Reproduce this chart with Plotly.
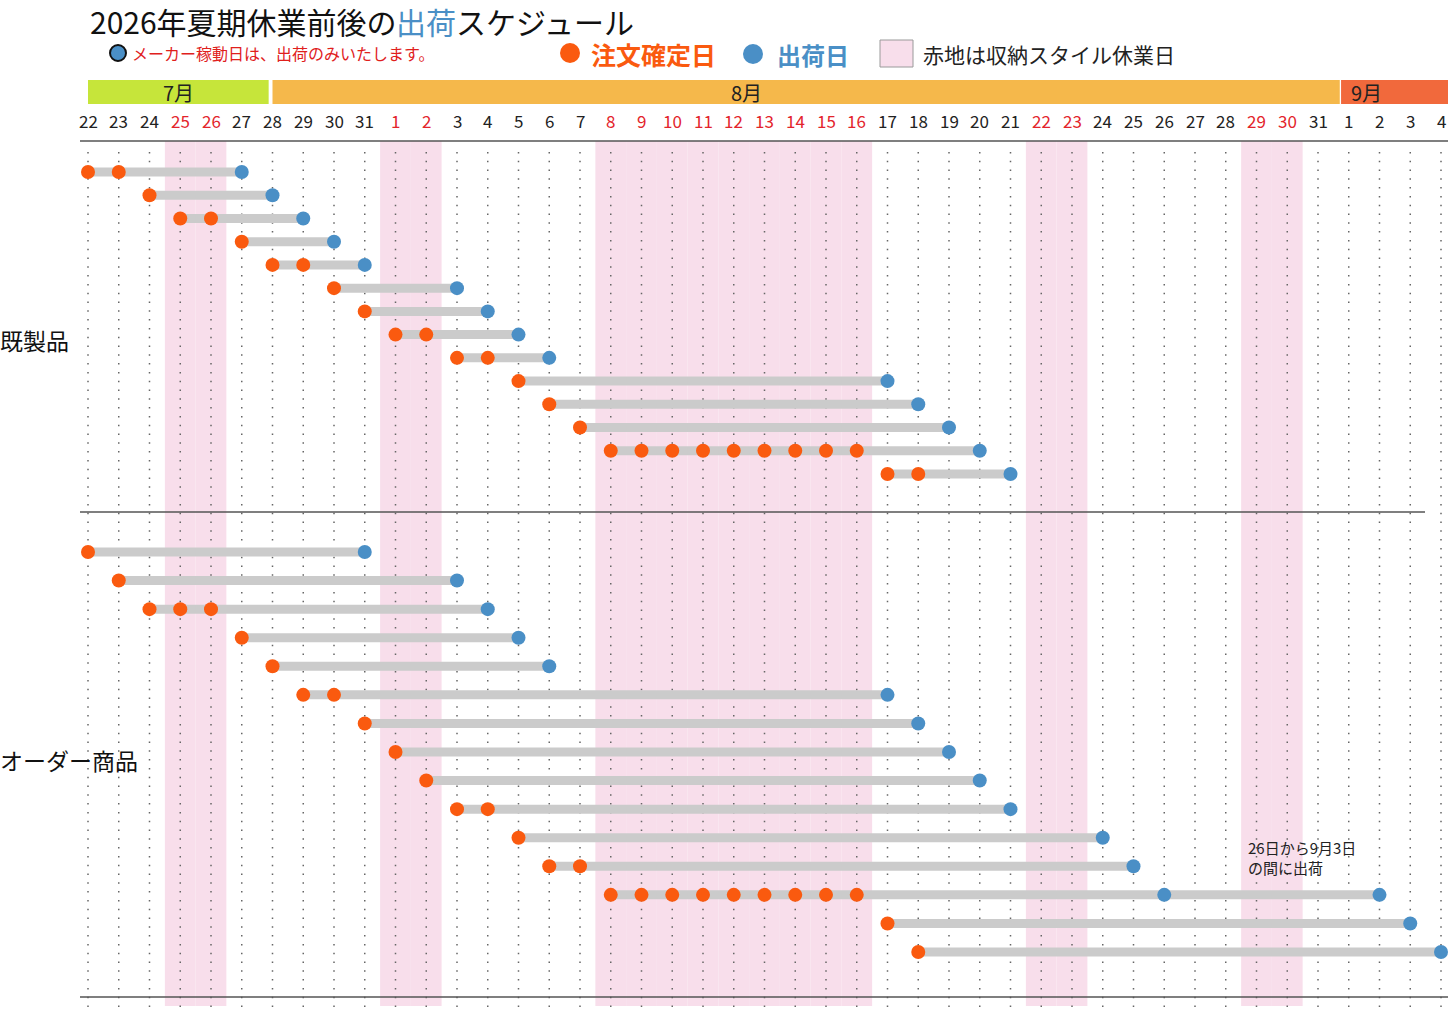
"""2026 summer holiday shipping schedule"""
import plotly.graph_objects as go
from datetime import datetime, timedelta

YEAR = 2026
W, H = 1448, 1009
FONT = "Noto Sans CJK JP"

ORANGE = "#fa5a0f"
BLUE = "#4a8fc6"
GRAY = "#cbcbcb"
PINK = "#f8deeb"
RED = "#e3242b"

# calendar shown on the x axis
first_day = "07-22"
last_day = "09-04"

# 収納スタイル休業日 (pink bands, red day labels)
holidays = ["07-25", "07-26", "08-01", "08-02",
            "08-08", "08-09", "08-10", "08-11", "08-12", "08-13", "08-14", "08-15", "08-16",
            "08-22", "08-23", "08-29", "08-30"]

# 既製品: order-confirmed days and ship day per row
stock_orders = [
    ["07-22", "07-23"], ["07-24"], ["07-25", "07-26"], ["07-27"], ["07-28", "07-29"],
    ["07-30"], ["07-31"], ["08-01", "08-02"], ["08-03", "08-04"], ["08-05"],
    ["08-06"], ["08-07"],
    ["08-08", "08-09", "08-10", "08-11", "08-12", "08-13", "08-14", "08-15", "08-16"],
    ["08-17", "08-18"],
]
stock_ships = [
    ["07-27"], ["07-28"], ["07-29"], ["07-30"], ["07-31"],
    ["08-03"], ["08-04"], ["08-05"], ["08-06"], ["08-17"],
    ["08-18"], ["08-19"], ["08-20"], ["08-21"],
]

# オーダー商品
custom_orders = [
    ["07-22"], ["07-23"], ["07-24", "07-25", "07-26"], ["07-27"], ["07-28"],
    ["07-29", "07-30"], ["07-31"], ["08-01"], ["08-02"], ["08-03", "08-04"],
    ["08-05"], ["08-06", "08-07"],
    ["08-08", "08-09", "08-10", "08-11", "08-12", "08-13", "08-14", "08-15", "08-16"],
    ["08-17"], ["08-18"],
]
custom_ships = [
    ["07-31"], ["08-03"], ["08-04"], ["08-05"], ["08-06"],
    ["08-17"], ["08-18"], ["08-19"], ["08-20"], ["08-21"],
    ["08-24"], ["08-25"], ["08-26", "09-02"], ["09-03"], ["09-04"],
]


def dt(md):
    return datetime.strptime(f"{YEAR}-{md}", "%Y-%m-%d")


def px(x):
    return x / W


def py(y):
    return 1 - y / H


days = []
d = dt(first_day)
while d <= dt(last_day):
    days.append(d)
    d += timedelta(days=1)
holiday_dates = [dt(h) for h in holidays]

# x scale: first day sits at 88px, ~30.75px per day
X0_PX = 88
PX_DAY = 30.75
x_start = days[0] - timedelta(days=X0_PX / PX_DAY)
x_end = days[0] + timedelta(days=(W - X0_PX) / PX_DAY)

fig = go.Figure()


def add_section(orders, ships, yaxis):
    lx, ly = [], []
    ox, oy, bx, by = [], [], [], []
    for i, (o, s) in enumerate(zip(orders, ships)):
        lx += [dt(min(o)), dt(max(s)), None]
        ly += [i, i, None]
        ox += [dt(v) for v in o]
        oy += [i] * len(o)
        bx += [dt(v) for v in s]
        by += [i] * len(s)
    fig.add_trace(go.Scatter(x=lx, y=ly, mode="lines", yaxis=yaxis,
                             line=dict(color=GRAY, width=9), hoverinfo="skip"))
    fig.add_trace(go.Scatter(x=ox, y=oy, mode="markers", yaxis=yaxis, name="注文確定日",
                             marker=dict(color=ORANGE, size=14)))
    fig.add_trace(go.Scatter(x=bx, y=by, mode="markers", yaxis=yaxis, name="出荷日",
                             marker=dict(color=BLUE, size=14)))


add_section(stock_orders, stock_ships, "y")
add_section(custom_orders, custom_ships, "y2")

shapes = []
# pink holiday bands
for h in holiday_dates:
    shapes.append(dict(type="rect", xref="x", yref="paper", layer="below",
                       x0=h - timedelta(hours=12), x1=h + timedelta(hours=12),
                       y0=py(1006), y1=py(141), fillcolor=PINK, line_width=0))
# dotted day lines
for day in days:
    shapes.append(dict(type="line", xref="x", yref="paper", layer="below",
                       x0=day, x1=day, y0=py(1007), y1=py(145),
                       line=dict(color="#666666", width=1.5, dash="1.5px,7.3px")))
# horizontal rules
for y, x1 in [(141, W), (512, 1425), (997, W)]:
    shapes.append(dict(type="line", xref="paper", yref="paper",
                       x0=px(80), x1=px(x1), y0=py(y), y1=py(y),
                       line=dict(color="#555555", width=1.5)))
# month bars
month_bars = [
    (days[0], days[5] + timedelta(hours=21), "#c6e53a"),
    (days[6], days[40] + timedelta(hours=17), "#f5b84b"),
    (days[40] + timedelta(hours=18), days[-1] + timedelta(days=2), "#f1693c"),
]
for x0, x1, c in month_bars:
    shapes.append(dict(type="rect", xref="x", yref="paper", x0=x0, x1=x1,
                       y0=py(104), y1=py(80), fillcolor=c, line_width=0))


# legend symbols
def circle(cx, cy, r, fill, line_color=None, lw=0):
    return dict(type="circle", xref="paper", yref="paper",
                x0=px(cx - r), x1=px(cx + r), y0=py(cy + r), y1=py(cy - r),
                fillcolor=fill, line=dict(color=line_color or fill, width=lw))


shapes.append(circle(118, 53, 8, BLUE, "#111111", 2))
shapes.append(circle(570, 53, 10, ORANGE))
shapes.append(circle(753, 54, 10, BLUE))
shapes.append(dict(type="rect", xref="paper", yref="paper",
                   x0=px(880), x1=px(913), y0=py(67), y1=py(40),
                   fillcolor=PINK, line=dict(color="#9a9a9a", width=1)))

annotations = []
# day labels
for day in days:
    annotations.append(dict(x=day, y=py(121), xref="x", yref="paper", showarrow=False,
                            text=str(day.day), xanchor="center", yanchor="middle",
                            font=dict(family=FONT, size=17,
                                      color=RED if day in holiday_dates else "#222222")))


def label(text, x, y, size, color="#111111", anchor="left"):
    annotations.append(dict(x=px(x), y=py(y), xref="paper", yref="paper", showarrow=False,
                            text=text, xanchor=anchor, yanchor="middle", align="left",
                            font=dict(family=FONT, size=size, color=color)))


# month labels
for text, x in [("7月", 178), ("8月", 746), ("9月", 1366)]:
    label(text, x, 92, 20, "#222222", "center")

# title in three pieces so 出荷 can be blue
label("2026年夏期休業前後の", 88, 21, 30)
label("出荷", 394, 21, 30, BLUE)
label("スケジュール", 454, 21, 30)

label("メーカー稼動日は、出荷のみいたします。", 130, 53, 16, "#e0201c")
label("<b>注文確定日</b>", 589, 54, 25, ORANGE)
label("<b>出荷日</b>", 775, 54, 24, BLUE)
label("赤地は収納スタイル休業日", 921, 54, 21, "#222222")
label("既製品", -2, 340, 23)
label("オーダー商品", -2, 760, 23)
label("26日から9月3日<br>の間に出荷", 1246, 857, 15, "#222222")

# y scales: row index -> pixel position of each section
s1_top, s1_step = 172, (474 - 172) / 13
s2_top, s2_step = 552, (952 - 552) / 14

fig.update_layout(
    width=W, height=H,
    margin=dict(l=0, r=0, t=0, b=0),
    paper_bgcolor="white", plot_bgcolor="rgba(0,0,0,0)",
    showlegend=False,
    xaxis=dict(type="date", range=[x_start, x_end], visible=False, fixedrange=True),
    yaxis=dict(domain=[py(512), py(141)], visible=False,
               range=[(512 - s1_top) / s1_step, (141 - s1_top) / s1_step]),
    yaxis2=dict(domain=[py(997), py(512)], visible=False,
                range=[(997 - s2_top) / s2_step, (512 - s2_top) / s2_step]),
    shapes=shapes,
    annotations=annotations,
)

fig.write_html("out.html", config={"displayModeBar": False},
               post_script="document.body.style.margin='0';")
